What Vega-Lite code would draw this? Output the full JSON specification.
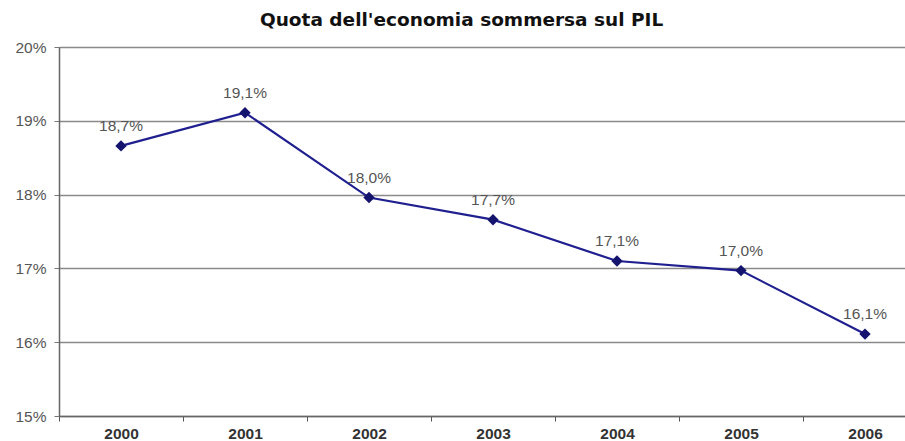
{
  "$schema": "https://vega.github.io/schema/vega-lite/v6.json",
  "autosize": {"type": "none"},
  "width": 868,
  "height": 369,
  "padding": {"left": 59, "top": 47, "right": 0, "bottom": 25},
  "background": "white",
  "title": {
    "text": "Quota dell'economia sommersa sul PIL",
    "font": "DejaVu Sans",
    "fontSize": 18.5,
    "fontWeight": "bold",
    "color": "#111111",
    "anchor": "start",
    "dx": 245,
    "offset": 11
  },
  "data": {
    "values": [
      {"anno": "2000", "quota": 18.66, "etichetta": "18,7%"},
      {"anno": "2001", "quota": 19.11, "etichetta": "19,1%"},
      {"anno": "2002", "quota": 17.96, "etichetta": "18,0%"},
      {"anno": "2003", "quota": 17.66, "etichetta": "17,7%"},
      {"anno": "2004", "quota": 17.1, "etichetta": "17,1%"},
      {"anno": "2005", "quota": 16.97, "etichetta": "17,0%"},
      {"anno": "2006", "quota": 16.11, "etichetta": "16,1%"}
    ]
  },
  "encoding": {
    "x": {
      "field": "anno",
      "type": "ordinal",
      "scale": {"paddingInner": 0, "paddingOuter": 0},
      "axis": {
        "title": null,
        "labelAngle": 0,
        "labelFont": "Liberation Sans",
        "labelFontSize": 15.5,
        "labelFontWeight": "bold",
        "labelColor": "#333333",
        "labelPadding": 5,
        "tickBand": "extent",
        "tickSize": 5,
        "tickColor": "#555555",
        "domainColor": "#666666",
        "domainWidth": 1.5,
        "grid": false
      }
    },
    "y": {
      "field": "quota",
      "type": "quantitative",
      "scale": {"domain": [15, 20], "nice": false, "zero": false},
      "axis": {
        "title": null,
        "values": [15, 16, 17, 18, 19, 20],
        "labelExpr": "datum.value + '%'",
        "labelFont": "Liberation Sans",
        "labelFontSize": 15.5,
        "labelColor": "#555555",
        "labelPadding": 8,
        "tickSize": 5,
        "tickColor": "#777777",
        "domainColor": "#666666",
        "domainWidth": 1.5,
        "grid": true,
        "gridColor": "#8a8a8a",
        "gridWidth": 1.5
      }
    }
  },
  "layer": [
    {
      "mark": {"type": "line", "color": "#1f1f8f", "strokeWidth": 2.2}
    },
    {
      "mark": {"type": "point", "shape": "diamond", "filled": true, "size": 130, "color": "#14146e", "opacity": 1}
    },
    {
      "mark": {"type": "text", "dy": -20, "font": "Liberation Sans", "fontSize": 15.5, "color": "#555555"},
      "encoding": {"text": {"field": "etichetta"}}
    }
  ],
  "config": {"view": {"stroke": null}}
}
